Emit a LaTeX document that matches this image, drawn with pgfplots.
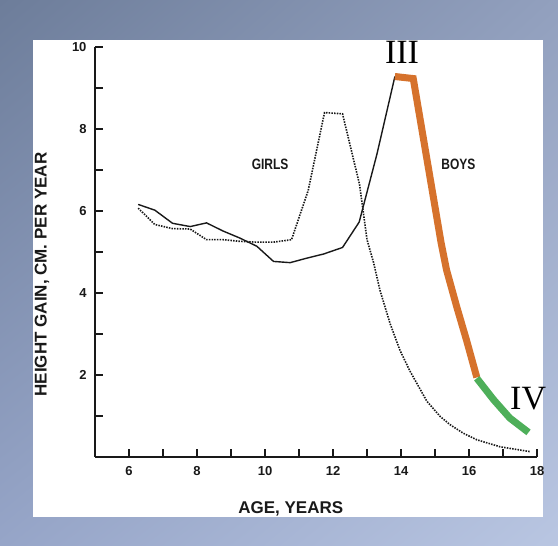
\documentclass[border=0pt]{standalone}
\usepackage{pgfplots}
\pgfplotsset{compat=1.18}
\usetikzlibrary{shadings}
\usepackage{fontspec}
\setmainfont{Liberation Sans}
\newfontfamily\romanfont{Liberation Serif}
\definecolor{bgtl}{RGB}{109,125,154}
\definecolor{bgtr}{RGB}{146,160,190}
\definecolor{bgbl}{RGB}{150,165,200}
\definecolor{bgbr}{RGB}{185,198,226}
\definecolor{orangeIII}{RGB}{214,114,44}
\definecolor{greenIV}{RGB}{78,175,90}
\definecolor{ink}{RGB}{25,25,25}
\begin{document}
\begin{tikzpicture}[x=1bp,y=1bp]
\shade[upper left=bgtl, upper right=bgtr, lower left=bgbl, lower right=bgbr] (0,0) rectangle (558,546);
\fill[white] (33,29) rectangle (543,506);
\begin{axis}[
  at={(95bp,89bp)}, anchor=south west,
  scale only axis, width=442bp, height=410bp,
  xmin=5, xmax=18, ymin=0, ymax=10,
  axis lines*=left,
  axis line style={ink, line width=1.5bp},
  tick align=inside,
  xtick={6,8,...,18}, minor xtick={7,9,...,17},
  ytick={2,4,...,10}, minor ytick={1,3,...,9},
  major tick length=8bp, minor tick length=8bp,
  every tick/.style={ink, line width=1.3bp},
  /pgf/number format/assume math mode=true,
  xticklabel style={font=\fontsize{13bp}{15bp}\selectfont\bfseries, text=ink, yshift=-6bp},
  yticklabel style={font=\fontsize{13bp}{15bp}\selectfont\bfseries, text=ink, xshift=-5bp},
  xticklabel={\pgfmathprintnumber{\tick}},
  yticklabel={\pgfmathprintnumber{\tick}},
  xlabel={AGE, YEARS},
  ylabel={HEIGHT GAIN, CM. PER YEAR},
  label style={font=\fontsize{17bp}{19bp}\selectfont\bfseries, text=ink},
  xlabel style={at={(axis description cs:0.443,-0.1256)}, anchor=center},
  ylabel style={at={(axis description cs:-0.12,0.445)}, anchor=center},
  clip=false,
]
% Boys (solid)
\addplot[ink, line width=1.4bp, line join=round] coordinates {
 (6.27,6.16) (6.76,6.02) (7.28,5.70) (7.80,5.62) (8.28,5.71) (8.77,5.51)
 (9.26,5.34) (9.76,5.14) (10.25,4.77) (10.74,4.74) (11.23,4.85) (11.72,4.95)
 (12.28,5.11) (12.77,5.73) (13.29,7.38) (13.82,9.28)
};
% Girls (dotted)
\addplot[ink, line width=1.6bp, dash pattern=on 1.5bp off 1.2bp] coordinates {
 (6.27,6.07) (6.76,5.67) (7.28,5.57) (7.80,5.56) (8.28,5.30) (8.77,5.30)
 (9.26,5.26) (9.76,5.24) (10.25,5.24) (10.78,5.30) (11.27,6.50) (11.75,8.40)
 (12.28,8.37) (12.78,6.65) (13.00,5.30) (13.19,4.75) (13.38,4.07) (13.68,3.25)
 (13.97,2.60) (14.26,2.10) (14.76,1.36) (15.15,0.99) (15.44,0.79) (15.83,0.58)
 (16.23,0.42) (16.91,0.25) (17.80,0.13)
};
% Phase III (orange)
\addplot[orangeIII, line width=7bp] coordinates {
 (13.82,9.28) (14.36,9.23) (15.18,5.22) (15.34,4.56) (15.64,3.66) (15.93,2.84) (16.23,1.94)
};
% Phase IV (green)
\addplot[greenIV, line width=7bp] coordinates {
 (16.23,1.92) (16.72,1.40) (17.20,0.95) (17.75,0.60)
};
\node[font=\fontsize{15bp}{17bp}\selectfont\bfseries, text=ink, xscale=0.8] at (axis cs:10.15,7.13) {GIRLS};
\node[font=\fontsize{15bp}{17bp}\selectfont\bfseries, text=ink, xscale=0.8] at (axis cs:15.69,7.13) {BOYS};
\node[font=\romanfont\fontsize{34bp}{38bp}\selectfont, inner sep=0pt] at (axis cs:14.03,9.88) {III};
\node[font=\romanfont\fontsize{34bp}{38bp}\selectfont, inner sep=0pt] at (axis cs:17.74,1.43) {IV};
\end{axis}
\pgfresetboundingbox
\path[use as bounding box] (0,0) rectangle (558,546);
\end{tikzpicture}
\end{document}
